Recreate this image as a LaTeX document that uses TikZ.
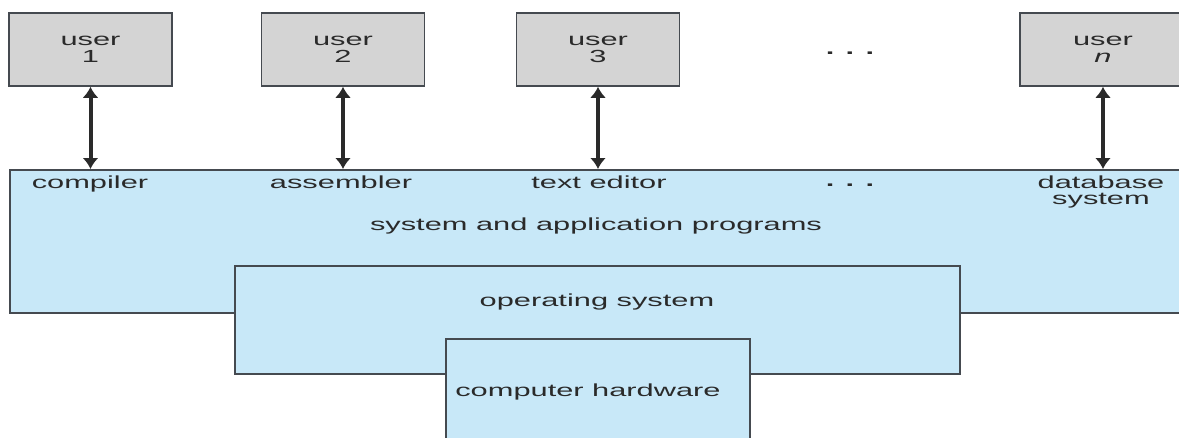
\documentclass[tikz,border=0pt]{standalone}
\usepackage{fontspec}
\setmainfont[FakeStretch=1.76]{Liberation Sans}
\usetikzlibrary{arrows.meta}
\definecolor{boxgray}{HTML}{D4D4D4}
\definecolor{layerblue}{HTML}{C8E8F8}
\definecolor{edgegray}{HTML}{454A50}
\definecolor{inkgray}{HTML}{2A2A2A}

\begin{document}
\begin{tikzpicture}[x=1pt,y=-1pt,
  txt/.style={font=\fontsize{17.5}{16.5}\selectfont,text=inkgray,align=center,inner sep=0pt},
  userbox/.style={txt,draw=edgegray,line width=1.6pt,fill=boxgray,minimum width=163pt,minimum height=73pt},
  layer/.style={draw=edgegray,line width=1.6pt,fill=layerblue,inner sep=0pt,anchor=north west},
  duplex/.style={{Latex[length=11pt,width=16pt]}-{Latex[length=11pt,width=16pt]},line width=4pt,inkgray}]

  \clip (0,0) rectangle (1179,437);

  % layers
  \node[layer,minimum width=1181pt,minimum height=143pt] (sys) at (9,169) {};
  \node[layer,minimum width=725pt,minimum height=108pt] (os) at (234,265) {};
  \node[layer,minimum width=304pt,minimum height=120pt] (hw) at (445,338) {};

  % users
  \node[userbox] (u1) at (90.5,49.5) {user\\1};
  \node[userbox] (u2) at (343,49.5) {user\\2};
  \node[userbox] (u3) at (598,49.5) {user\\3};
  \node[userbox,minimum width=166pt] (un) at (1103,49.5) {user\\\textit{n}};
  \node[txt,anchor=base] (udots) at (850,54.5) {\textbf{. . .}};

  % programs
  \node[txt,anchor=base] (comp) at (90,188) {compiler};
  \node[txt,anchor=base] (asm) at (341,188) {assembler};
  \node[txt,anchor=base] (edit) at (599,188) {text editor};
  \node[txt,anchor=base] (pdots) at (850,186.5) {\textbf{. . .}};
  \node[txt] (dbs) at (1101,192) {database\\system};

  \node[txt,anchor=base] (sysl) at (596,230) {system and application programs};
  \node[txt,anchor=base] (osl) at (597,306) {operating system};
  \node[txt,anchor=base] (hwl) at (588,396) {computer hardware};

  \draw[duplex] (u1.south) -- (u1.south |- sys.north);
  \draw[duplex] (u2.south) -- (u2.south |- sys.north);
  \draw[duplex] (u3.south) -- (u3.south |- sys.north);
  \draw[duplex] (un.south) -- (un.south |- sys.north);

\end{tikzpicture}
\end{document}
